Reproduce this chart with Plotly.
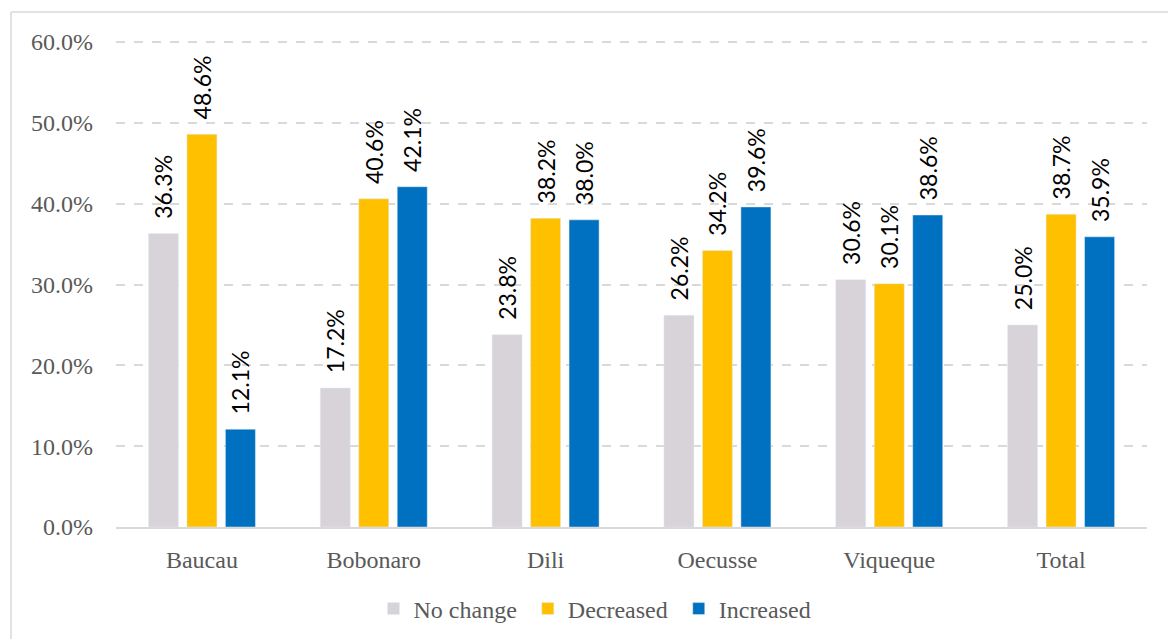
import plotly.graph_objects as go

categories = ["Baucau", "Bobonaro", "Dili", "Oecusse", "Viqueque", "Total"]
no_change = [36.3, 17.2, 23.8, 26.2, 30.6, 25.0]
decreased = [48.6, 40.6, 38.2, 34.2, 30.1, 38.7]
increased = [12.1, 42.1, 38.0, 39.6, 38.6, 35.9]
series_names = ["No change", "Decreased", "Increased"]
y_ticks = [0, 10, 20, 30, 40, 50, 60]
y_tick_labels = ["0.0%", "10.0%", "20.0%", "30.0%", "40.0%", "50.0%", "60.0%"]

colors = ["#D7D3D9", "#FFC000", "#0070C0"]
label_font = "Lato, 'Open Sans', sans-serif"
serif = "'Liberation Serif', 'DejaVu Serif', serif"

W, H = 1168, 639
L, R, T, B = 116, 21, 38, 112
pw, ph = W - L - R, H - T - B

fig = go.Figure()
for name, vals, col in zip(series_names, [no_change, decreased, increased], colors):
    fig.add_trace(go.Bar(
        name=name + "\u00a0", x=categories, y=vals, marker_color=col,
        text=["\u00a0\u00a0" + f"{v:.1f}%" for v in vals],
        textposition="outside", textangle=-90, cliponaxis=False,
        constraintext="none",
        textfont=dict(family=label_font, size=23, color="#000000"),
        hoverinfo="skip",
    ))

# border
fig.add_shape(type="line", xref="paper", yref="paper",
              x0=(11 - L) / pw, x1=(W + 5 - L) / pw,
              y0=(H - B - 12) / ph, y1=(H - B - 12) / ph,
              line=dict(color="#D9D9D9", width=1.5))
fig.add_shape(type="line", xref="paper", yref="paper",
              x0=(11 - L) / pw, x1=(11 - L) / pw,
              y0=(H - B - 12) / ph, y1=-(B + 5) / ph,
              line=dict(color="#D9D9D9", width=1.5))

fig.update_layout(
    width=W, height=H,
    margin=dict(l=L, r=R, t=T, b=B, autoexpand=False),
    paper_bgcolor="white", plot_bgcolor="white",
    barmode="group", bargap=0.328, bargroupgap=0.22,
    showlegend=True,
    legend=dict(orientation="h", x=(598 - L) / pw, xanchor="center",
                y=-(609 - (H - B)) / ph, yanchor="middle",
                font=dict(family=serif, size=24, color="#595959"),
                itemwidth=30, traceorder="normal"),
    font=dict(family=serif, color="#595959"),
)
fig.update_yaxes(range=[0, 60.5], tickvals=y_ticks, ticktext=y_tick_labels,
                 showgrid=True, gridcolor="#D9D9D9", gridwidth=1.5, griddash="dash",
                 zeroline=False, showline=False,
                 tickfont=dict(family=serif, size=24, color="#595959"),
                 ticks="", ticklabelstandoff=22)
fig.update_xaxes(showline=True, linecolor="#D9D9D9", linewidth=2, ticks="",
                 tickfont=dict(family=serif, size=24, color="#595959"),
                 ticklabelstandoff=10)

fig.write_html("out.html", config={"displayModeBar": False},
               post_script="document.body.style.margin='0';")
